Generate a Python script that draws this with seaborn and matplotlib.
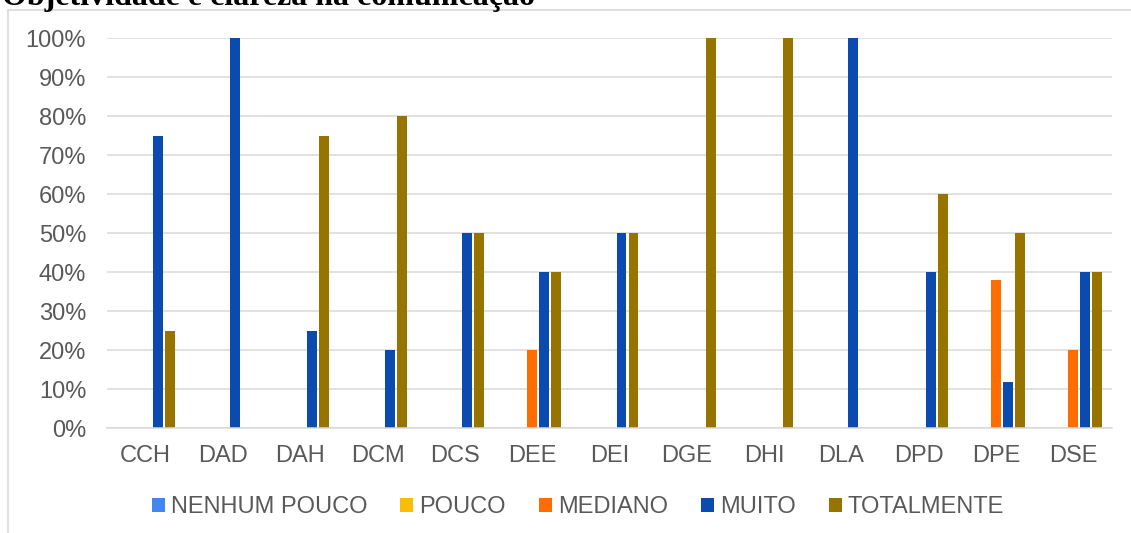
import matplotlib
matplotlib.use("Agg")
import matplotlib.pyplot as plt
from matplotlib.patches import Rectangle
from matplotlib.ticker import PercentFormatter
import pandas as pd
import seaborn as sns

# Survey results per department (share of responses, %)
categories = ["CCH", "DAD", "DAH", "DCM", "DCS", "DEE", "DEI",
              "DGE", "DHI", "DLA", "DPD", "DPE", "DSE"]
series_names = ["NENHUM POUCO", "POUCO", "MEDIANO", "MUITO", "TOTALMENTE"]
nenhum_pouco = [0, 0, 0, 0, 0, 0, 0, 0, 0, 0, 0, 0, 0]
pouco = [0, 0, 0, 0, 0, 0, 0, 0, 0, 0, 0, 0, 0]
mediano = [0, 0, 0, 0, 0, 20, 0, 0, 0, 0, 0, 38, 20]
muito = [75, 100, 25, 20, 50, 40, 50, 0, 0, 100, 40, 12, 40]
totalmente = [25, 0, 75, 80, 50, 40, 50, 100, 100, 0, 60, 50, 40]
title = "Objetividade e clareza na comunicação"

colors = ["#4285F4", "#FBBC04", "#FF6D01", "#0B4BAF", "#977300"]
text_color = "#595959"
grid_color = "#D9D9D9"

rows = []
for name, vals in zip(series_names,
                      [nenhum_pouco, pouco, mediano, muito, totalmente]):
    for cat, v in zip(categories, vals):
        rows.append({"cat": cat, "serie": name, "val": v / 100})
df = pd.DataFrame(rows)

sns.set_style("white")
plt.rcParams["font.family"] = ["Liberation Sans", "DejaVu Sans"]

fig = plt.figure(figsize=(11.31, 5.33), dpi=100)
ax = fig.add_axes([107 / 1131, 1 - 428.3 / 533, (1112 - 107) / 1131, 390 / 533])

sns.barplot(data=df, x="cat", y="val", hue="serie", hue_order=series_names,
            order=categories, palette=colors, saturation=1, width=0.776,
            gap=0.17, linewidth=0, ax=ax)

ax.set_xlim(-0.5, len(categories) - 0.5)
ax.set_ylim(0, 1)
ax.set_yticks([i / 10 for i in range(11)])
ax.yaxis.set_major_formatter(PercentFormatter(1.0, decimals=0))
ax.set_xlabel("")
ax.set_ylabel("")
ax.grid(axis="y", color=grid_color, linewidth=1.1)
ax.set_axisbelow(True)
for side in ["left", "right", "top"]:
    ax.spines[side].set_visible(False)
ax.spines["bottom"].set_color(grid_color)
ax.spines["bottom"].set_linewidth(1.1)
ax.tick_params(axis="both", length=0, labelsize=17, labelcolor=text_color)
ax.tick_params(axis="y", pad=15)
ax.tick_params(axis="x", pad=12)

handles, labels = ax.get_legend_handles_labels()
ax.get_legend().remove()
leg = fig.legend(handles, labels, ncol=5, loc="center",
                 bbox_to_anchor=(0.511, 1 - 507 / 533), frameon=False,
                 fontsize=17, handlelength=0.55, handleheight=0.55,
                 handletextpad=0.25, columnspacing=1.4)
for t in leg.get_texts():
    t.set_color(text_color)

# Chart frame
fig.patches.append(Rectangle((8 / 1131, -0.1), 1.2, 1.1 - 10 / 533,
                             transform=fig.transFigure, fill=False,
                             edgecolor=grid_color, linewidth=1.2))

fig.text(2 / 1131, 1 - 5 / 533, title, ha="left", va="baseline",
         fontfamily=["Liberation Serif", "DejaVu Serif"], fontweight="bold",
         fontsize=23, color="black")

fig.savefig("out.png", dpi=100)
